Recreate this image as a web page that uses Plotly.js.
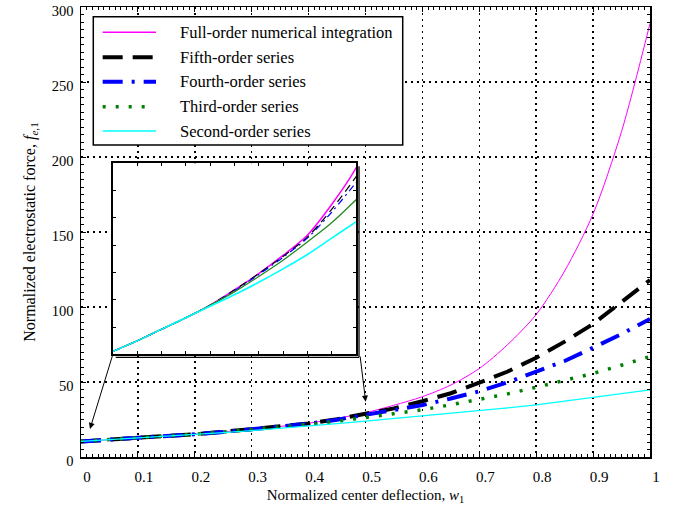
<!DOCTYPE html>
<html><head><meta charset="utf-8">
<script src="https://cdn.plot.ly/plotly-3.0.1.min.js"></script>
<style>html,body{margin:0;padding:0;background:#fff}#chart{width:674px;height:506px}</style>
</head><body><div id="chart"></div>
<script>
// Normalized center deflection w1
const deflection = [0,0.05,0.1,0.15,0.2,0.25,0.3,0.35,0.4,0.45,0.5,0.55,0.6,0.65,0.7,0.75,0.8,0.85,0.9,0.95,1.0];
// Normalized electrostatic force for each approximation
const fullOrder   = [10.4,11.5,12.7,13.9,15.2,16.8,18.5,20.4,22.5,25.7,29.5,34.5,40.2,48,59,75,95,124,162,217,289];
const fifthOrder  = [10.4,11.5,12.7,13.9,15.2,16.8,18.5,20.3,22.3,25.2,28.6,32.4,37.2,42.5,49.5,57,66.2,76.9,88.7,103,118];
const fourthOrder = [10.4,11.5,12.7,13.9,15.2,16.7,18.4,20.2,22.2,24.9,28.0,31.3,34.6,39,43.8,49.8,56.7,64,72.9,82,92];
const thirdOrder  = [10.4,11.5,12.7,13.9,15.2,16.6,18.2,19.9,21.8,23.8,26.2,28.7,31.5,34.8,38.6,42.1,46.5,51,55.7,61.2,67];
const secondOrder = [10.4,11.5,12.7,13.9,15.1,16.3,17.6,19.0,20.5,22.2,23.9,25.6,27.2,29.0,30.8,32.7,34.7,37.2,40.0,42.4,44.7];
const seriesNames = ['Full-order numerical integration','Fifth-order series','Fourth-order series','Third-order series','Second-order series'];
const xTickVals = [0,0.1,0.2,0.3,0.4,0.5,0.6,0.7,0.8,0.9,1];
const xTickText = ['0','0.1','0.2','0.3','0.4','0.5','0.6','0.7','0.8','0.9','1'];
const yTickVals = [0,50,100,150,200,250,300];
const yTickText = ['0','50','100','150','200','250','300'];

const seriesData = [fullOrder, fifthOrder, fourthOrder, thirdOrder, secondOrder];
const mainStyles = [
  {color:'#ff00ff', width:1, dash:'solid', shape:'spline', smoothing:0.8},
  {color:'#000000', width:4, dash:'20px,10px'},
  {color:'#0000ff', width:4, dash:'20px,9px,3px,9px'},
  {color:'#008000', width:3.5, dash:'3px,10px'},
  {color:'#00ffff', width:1.3, dash:'solid'}
];
const insetStyles = [
  {color:'#ff00ff', width:1.5, dash:'solid', shape:'spline', smoothing:0.8},
  {color:'#000000', width:1.2, dash:'8px,5px', shape:'spline', smoothing:0.8},
  {color:'#0000ff', width:1.2, dash:'7px,4px,2px,4px', shape:'spline', smoothing:0.8},
  {color:'#228b22', width:1.3, dash:'solid', shape:'spline', smoothing:0.8},
  {color:'#00ffff', width:1.6, dash:'solid', shape:'spline', smoothing:0.8}
];

const FONT = '"Liberation Serif", "Times New Roman", Times, serif';
const traces = [];
seriesData.forEach((ys, i) => {
  traces.push({x: deflection, y: ys, type:'scatter', mode:'lines', name: seriesNames[i],
    line: mainStyles[i], xaxis:'x', yaxis:'y', showlegend:false, hoverinfo:'skip'});
});
seriesData.forEach((ys, i) => {
  traces.push({x: deflection, y: ys, type:'scatter', mode:'lines', name: seriesNames[i] + ' (inset)',
    line: insetStyles[i], xaxis:'x2', yaxis:'y2', showlegend:false, hoverinfo:'skip'});
});

// custom legend (paper coordinates)
const legX0 = 0.0216, legX1 = 0.5654, legY0 = 0.6933, legY1 = 0.9784;
const rowY = [0.9438, 0.8882, 0.8340, 0.7784, 0.7244];
const sampleX0 = 0.0381, sampleX1 = 0.1318, textX = 0.1705;
const shapes = [
  {type:'rect', xref:'paper', yref:'paper', x0:legX0, x1:legX1, y0:legY0, y1:legY1,
   fillcolor:'#ffffff', line:{color:'#000', width:1.5}, layer:'above'},
  // inset shadow lines (double frame)
  {type:'line', xref:'paper', yref:'paper', x0:0.0610, x1:0.4886, y0:0.2216, y1:0.2216, line:{color:'#000', width:1.3}, layer:'above'},
  {type:'line', xref:'paper', yref:'paper', x0:0.4886, x1:0.4886, y0:0.2216, y1:0.6460, line:{color:'#000', width:1.3}, layer:'above'}
];
const annotations = [];
mainStyles.forEach((st, i) => {
  const x1 = (i === 3) ? 0.112 : sampleX1;
  shapes.push({type:'line', xref:'paper', yref:'paper', x0:sampleX0, x1:x1, y0:rowY[i], y1:rowY[i],
    line:{color: st.color, width: Math.max(st.width, 1.5), dash: st.dash}, layer:'above'});
  annotations.push({xref:'paper', yref:'paper', x:textX, y:rowY[i], xanchor:'left', yanchor:'middle',
    text: seriesNames[i], showarrow:false, font:{family:FONT, size:16.5, color:'#000'}});
});
// arrows from inset to the main plot
annotations.push({xref:'x', yref:'y', x:0.0158, y:18.7, ax:23.3, ay:-76, axref:'pixel', ayref:'pixel',
  text:'', showarrow:true, arrowhead:2, arrowsize:1.2, arrowwidth:1, arrowcolor:'#000'});
annotations.push({xref:'x', yref:'y', x:0.5003, y:36.9, ax:-5.7, ay:-46.7, axref:'pixel', ayref:'pixel',
  text:'', showarrow:true, arrowhead:2, arrowsize:1.2, arrowwidth:1, arrowcolor:'#000'});

const axisCommon = {
  showline:true, linecolor:'#000', linewidth:1.5, mirror:'allticks',
  ticks:'inside', ticklen:5, tickwidth:1, tickcolor:'#000',
  showgrid:true, gridcolor:'#000', gridwidth:1.5, griddash:'2px,4px',
  zeroline:false, ticklabeloverflow:'allow',
  tickfont:{family:FONT, size:15, color:'#000'}
};

const layout = {
  width:674, height:506,
  margin:{l:81, r:24, t:7, b:49},
  paper_bgcolor:'#fff', plot_bgcolor:'#fff',
  showlegend:false,
  font:{family:FONT, color:'#000'},
  xaxis: Object.assign({}, axisCommon, {
    range:[0,1], tickmode:'array', tickvals:xTickVals, ticktext:xTickText,
    ticklabelshift:6, ticklabelstandoff:5,
    minor:{dtick:0.01, ticks:'inside', ticklen:3, tickcolor:'#000', showgrid:false},
    title:{text:'Normalized center deflection, <i>w</i><sub>1</sub>', font:{family:FONT, size:15, color:'#000'}, standoff:6}
  }),
  yaxis: Object.assign({}, axisCommon, {
    range:[0,300], tickmode:'array', tickvals:yTickVals, ticktext:yTickText,
    ticklabelstandoff:3, ticklabelshift:4,
    tickfont:{family:FONT, size:14.5, color:'#000'},
    minor:{dtick:5, ticks:'inside', ticklen:3, tickcolor:'#000', showgrid:false},
    title:{text:'Normalized electrostatic force, <i>f</i><sub><i>e</i>,1</sub>', font:{family:FONT, size:16, color:'#000'}, standoff:12}
  }),
  xaxis2: {domain:[0.0557,0.4833], anchor:'y2', range:[0,0.5], showticklabels:false,
    showline:true, linecolor:'#000', linewidth:2, mirror:'allticks',
    ticks:'inside', ticklen:3, tickwidth:1, tickcolor:'#000', dtick:0.05, tick0:0,
    showgrid:false, zeroline:false},
  yaxis2: {domain:[0.2282,0.6527], anchor:'x2', range:[10.1,30], showticklabels:false,
    showline:true, linecolor:'#000', linewidth:2, mirror:'allticks',
    ticks:'inside', ticklen:3, tickwidth:1, tickcolor:'#000', tick0:10.1, dtick:2.843,
    showgrid:false, zeroline:false},
  shapes: shapes,
  annotations: annotations
};

Plotly.newPlot('chart', traces, layout, {displayModeBar:false, staticPlot:true});
</script></body></html>
